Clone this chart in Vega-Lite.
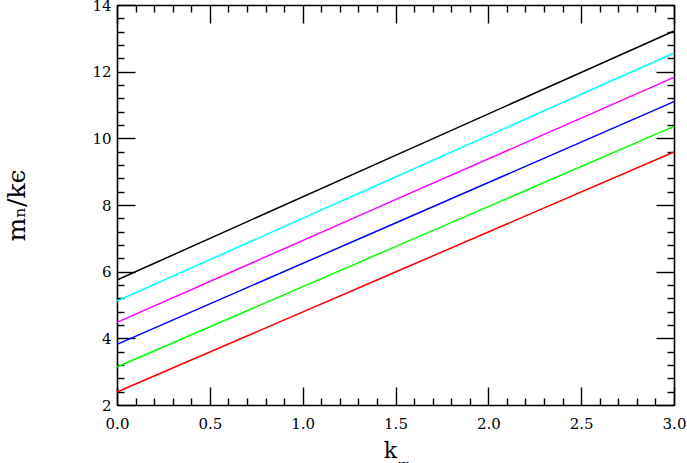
{
  "$schema": "https://vega.github.io/schema/vega-lite/v6.json",
  "width": 557,
  "height": 400,
  "autosize": {"type": "none"},
  "padding": {"left": 117, "top": 5, "right": 13, "bottom": 58},
  "background": "white",
  "config": {
    "view": {"stroke": null},
    "axis": {
      "domainColor": "black",
      "domainWidth": 1.6,
      "tickColor": "black",
      "tickWidth": 1.4,
      "grid": false,
      "labelFont": "DejaVu Serif",
      "labelFontSize": 15,
      "labelColor": "black",
      "labelFlush": false,
      "labelBound": false,
      "labelOverlap": false,
      "titleFont": "DejaVu Serif",
      "titleFontSize": 22,
      "titleFontWeight": "normal",
      "titleColor": "black"
    }
  },
  "data": {
    "values": [
      {"k": 0, "m": 2.39, "curve": "1"},
      {"k": 1.5, "m": 5.99, "curve": "1"},
      {"k": 3, "m": 9.59, "curve": "1"},
      {"k": 0, "m": 3.14, "curve": "2"},
      {"k": 1.5, "m": 6.75, "curve": "2"},
      {"k": 3, "m": 10.36, "curve": "2"},
      {"k": 0, "m": 3.82, "curve": "3"},
      {"k": 1.5, "m": 7.46, "curve": "3"},
      {"k": 3, "m": 11.1, "curve": "3"},
      {"k": 0, "m": 4.48, "curve": "4"},
      {"k": 1.5, "m": 8.16, "curve": "4"},
      {"k": 3, "m": 11.83, "curve": "4"},
      {"k": 0, "m": 5.12, "curve": "5"},
      {"k": 1.5, "m": 8.84, "curve": "5"},
      {"k": 3, "m": 12.56, "curve": "5"},
      {"k": 0, "m": 5.75, "curve": "6"},
      {"k": 1.5, "m": 9.49, "curve": "6"},
      {"k": 3, "m": 13.22, "curve": "6"}
    ]
  },
  "layer": [
    {
      "mark": {"type": "line", "strokeWidth": 1.5},
      "encoding": {
        "x": {
          "field": "k",
          "type": "quantitative",
          "scale": {"domain": [0, 3], "nice": false, "zero": false},
          "axis": {
            "orient": "bottom",
            "title": "k",
            "titleAlign": "center",
            "titleBaseline": "alphabetic",
            "titleX": 273,
            "titleY": 52,
            "values": [0, 0.1, 0.2, 0.3, 0.4, 0.5, 0.6, 0.7, 0.8, 0.9, 1, 1.1, 1.2, 1.3, 1.4, 1.5, 1.6, 1.7, 1.8, 1.9, 2, 2.1, 2.2, 2.3, 2.4, 2.5, 2.6, 2.7, 2.8, 2.9, 3],
            "tickSize": {"condition": {"test": "abs(datum.value*2 - round(datum.value*2)) < 0.001", "value": -18}, "value": -7},
            "labelExpr": "abs(datum.value*2 - round(datum.value*2)) < 0.001 ? format(datum.value, '.1f') : ''",
            "labelPadding": 29
          }
        },
        "y": {
          "field": "m",
          "type": "quantitative",
          "scale": {"domain": [2, 14], "nice": false, "zero": false},
          "axis": {
            "orient": "left",
            "title": "mₙ/kϵ",
            "titleFontSize": 25,
            "titleAngle": 270,
            "titleAlign": "center",
            "titleBaseline": "middle",
            "titleX": -101,
            "titleY": 200,
            "values": [2, 2.4, 2.8, 3.2, 3.6, 4, 4.4, 4.8, 5.2, 5.6, 6, 6.4, 6.8, 7.2, 7.6, 8, 8.4, 8.8, 9.2, 9.6, 10, 10.4, 10.8, 11.2, 11.6, 12, 12.4, 12.8, 13.2, 13.6, 14],
            "tickSize": {"condition": {"test": "abs(datum.value/2 - round(datum.value/2)) < 0.001", "value": -18}, "value": -7},
            "labelExpr": "abs(datum.value/2 - round(datum.value/2)) < 0.001 ? format(datum.value, 'd') : ''",
            "labelPadding": 24
          }
        },
        "color": {
          "field": "curve",
          "type": "nominal",
          "scale": {"domain": ["1", "2", "3", "4", "5", "6"], "range": ["#ff0000", "#00ff00", "#0000ff", "#ff00ff", "#00ffff", "#000000"]},
          "legend": null
        }
      }
    },
    {
      "mark": {"type": "line", "opacity": 0},
      "encoding": {
        "x": {
          "field": "k",
          "type": "quantitative",
          "scale": {"domain": [0, 3], "nice": false, "zero": false},
          "axis": {
            "orient": "top",
            "title": "Ψ",
            "titleFontSize": 13,
            "titleAlign": "center",
            "titleBaseline": "top",
            "titleX": 286,
            "titleY": 456,
            "labels": false,
            "values": [0, 0.1, 0.2, 0.3, 0.4, 0.5, 0.6, 0.7, 0.8, 0.9, 1, 1.1, 1.2, 1.3, 1.4, 1.5, 1.6, 1.7, 1.8, 1.9, 2, 2.1, 2.2, 2.3, 2.4, 2.5, 2.6, 2.7, 2.8, 2.9, 3],
            "tickSize": {"condition": {"test": "abs(datum.value*2 - round(datum.value*2)) < 0.001", "value": -18}, "value": -7}
          }
        },
        "y": {
          "field": "m",
          "type": "quantitative",
          "scale": {"domain": [2, 14], "nice": false, "zero": false},
          "axis": {
            "orient": "right",
            "title": null,
            "labels": false,
            "values": [2, 2.4, 2.8, 3.2, 3.6, 4, 4.4, 4.8, 5.2, 5.6, 6, 6.4, 6.8, 7.2, 7.6, 8, 8.4, 8.8, 9.2, 9.6, 10, 10.4, 10.8, 11.2, 11.6, 12, 12.4, 12.8, 13.2, 13.6, 14],
            "tickSize": {"condition": {"test": "abs(datum.value/2 - round(datum.value/2)) < 0.001", "value": -18}, "value": -7}
          }
        },
        "detail": {"field": "curve", "type": "nominal"}
      }
    }
  ],
  "resolve": {"axis": {"x": "independent", "y": "independent"}}
}
